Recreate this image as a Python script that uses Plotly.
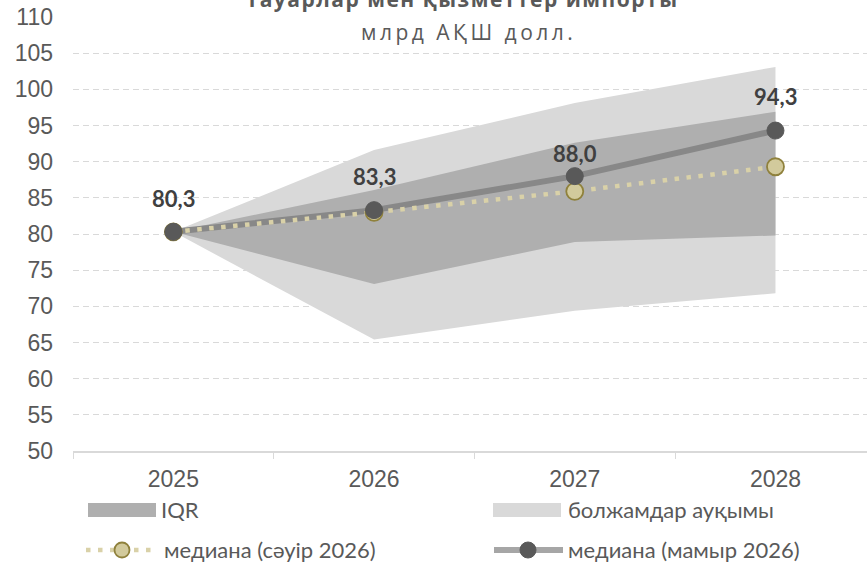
import plotly.graph_objects as go

years = ["2025", "2026", "2027", "2028"]
range_hi = [80.3, 91.6, 98.1, 103.1]
range_lo = [80.3, 65.4, 69.4, 71.8]
iqr_hi = [80.3, 86.1, 92.6, 96.9]
iqr_lo = [80.3, 73.1, 78.9, 79.8]
median_apr = [80.3, 83.0, 85.9, 89.3]
median_may = [80.3, 83.3, 88.0, 94.3]
y_ticks = list(range(50, 111, 5))

title = "Тауарлар мен қызметтер импорты"
subtitle = "млрд АҚШ долл."
leg_iqr = "IQR"
leg_range = "болжамдар ауқымы"
leg_apr = "медиана (сәуір 2026)"
leg_may = "медиана (мамыр 2026)"

W, H = 867, 563
ML, MT, MB, MR = 73, 17, 112, 0
PW, PH = W - ML - MR, H - MT - MB

def px(x):
    return (x - ML) / PW

def py(y):
    return (MT + PH - y) / PH

AX_FONT = "Liberation Sans"
LBL_FONT = "Lato"
TTL_FONT = "Open Sans"
TXT = "#404040"
TICK = "#595959"
C_RANGE = "#d9d9d9"
C_IQR = "#afafaf"
C_MAY_LINE = "#888888"
C_MAY_LEG = "#a6a6a6"
C_MAY_MK = "#595959"
C_APR_LINE = "#d9d1a8"
C_APR_MK = "#d2ca9c"
C_APR_BORDER = "#8f813c"

fig = go.Figure()

fig.add_trace(go.Scatter(
    x=years + years[::-1], y=range_hi + range_lo[::-1],
    fill="toself", fillcolor=C_RANGE, line=dict(width=0), mode="lines",
    hoverinfo="skip", showlegend=False))
fig.add_trace(go.Scatter(
    x=years + years[::-1], y=iqr_hi + iqr_lo[::-1],
    fill="toself", fillcolor=C_IQR, line=dict(width=0), mode="lines",
    hoverinfo="skip", showlegend=False))
fig.add_trace(go.Scatter(
    x=years, y=median_may, mode="lines",
    line=dict(color=C_MAY_LINE, width=6), showlegend=False))
fig.add_trace(go.Scatter(
    x=years, y=median_apr, mode="lines+markers",
    line=dict(color=C_APR_LINE, width=4.5, dash="4.5px,7.5px"),
    marker=dict(size=17, color=C_APR_MK, line=dict(color=C_APR_BORDER, width=1.8)),
    showlegend=False))
fig.add_trace(go.Scatter(
    x=years, y=median_may, mode="markers",
    marker=dict(size=17, color=C_MAY_MK, line=dict(color=C_MAY_MK, width=1)),
    showlegend=False))

label_shift = [33, 34, 23, 34]
for i, (v, s) in enumerate(zip(median_may, label_shift)):
    fig.add_annotation(x=i, y=v, text="<b>" + f"{v:.1f}".replace(".", ",") + "</b>",
                       showarrow=False, yshift=s, xanchor="center", yanchor="middle",
                       font=dict(family=LBL_FONT, size=22, color=TXT))

fig.add_annotation(xref="paper", yref="paper", x=px(462), y=py(-1),
                   xanchor="center", yanchor="middle",
                   text="<b><span style='letter-spacing:1.5px'>" + title + "</span></b>",
                   showarrow=False,
                   font=dict(family=TTL_FONT, size=21, color=TICK))
fig.add_annotation(xref="paper", yref="paper", x=px(468), y=py(32),
                   xanchor="center", yanchor="middle",
                   text="<span style='letter-spacing:3.5px'>" + subtitle + "</span>",
                   showarrow=False,
                   font=dict(family=TTL_FONT, size=21, color=TICK))

shapes = []
r1 = 510
shapes.append(dict(type="rect", xref="paper", yref="paper", x0=px(88), x1=px(156),
                   y0=py(r1 - 7), y1=py(r1 + 7), fillcolor=C_IQR, line=dict(width=0)))
shapes.append(dict(type="rect", xref="paper", yref="paper", x0=px(493), x1=px(561),
                   y0=py(r1 - 7), y1=py(r1 + 7), fillcolor=C_RANGE, line=dict(width=0)))
r2 = 550
shapes.append(dict(type="line", xref="paper", yref="paper", x0=px(86), x1=px(153),
                   y0=py(r2), y1=py(r2),
                   line=dict(color=C_APR_LINE, width=4.5, dash="4.5px,7.5px")))
shapes.append(dict(type="circle", xref="paper", yref="paper", xsizemode="pixel", ysizemode="pixel",
                   xanchor=px(122), yanchor=py(r2), x0=-7.5, x1=7.5, y0=-7.5, y1=7.5,
                   fillcolor=C_APR_MK, line=dict(color=C_APR_BORDER, width=1.8)))
shapes.append(dict(type="line", xref="paper", yref="paper", x0=px(494), x1=px(563),
                   y0=py(r2), y1=py(r2), line=dict(color=C_MAY_LEG, width=6)))
shapes.append(dict(type="circle", xref="paper", yref="paper", xsizemode="pixel", ysizemode="pixel",
                   xanchor=px(528), yanchor=py(r2), x0=-8, x1=8, y0=-8, y1=8,
                   fillcolor=C_MAY_MK, line=dict(color=C_MAY_MK, width=1)))

for txt, x, y in [(leg_iqr, 159, r1), (leg_range, 566, r1), (leg_apr, 162, r2 - 1), (leg_may, 566, r2 - 1)]:
    fig.add_annotation(xref="paper", yref="paper", x=px(x), y=py(y),
                       xanchor="left", yanchor="middle",
                       text=txt, showarrow=False,
                       font=dict(family=LBL_FONT, size=22, color=TICK))

fig.update_layout(
    width=W, height=H, margin=dict(l=ML, r=MR, t=MT, b=MB, autoexpand=False),
    paper_bgcolor="white", plot_bgcolor="white",
    shapes=shapes,
    font=dict(family=AX_FONT, size=23, color=TICK),
    xaxis=dict(type="category", range=[-0.5, 3.456], tickson="boundaries",
               ticks="outside", ticklen=6, tickcolor="#d9d9d9", tickwidth=1.3,
               showline=True, linecolor="#d9d9d9", linewidth=1.5,
               showgrid=False, zeroline=False, automargin=False,
               ticklabelstandoff=7,
               tickfont=dict(family=AX_FONT, size=23, color=TICK)),
    yaxis=dict(range=[50, 110], tickvals=y_ticks, showgrid=True,
               gridcolor="#d9d9d9", griddash="6px,4px", gridwidth=1.3,
               zeroline=False, showline=False, ticks="", automargin=False,
               ticklabelstandoff=19,
               tickfont=dict(family=AX_FONT, size=23, color=TICK)),
)

fig.write_html("out.html", config={"displayModeBar": False},
               post_script="document.body.style.margin='0';document.body.style.overflow='hidden';")
